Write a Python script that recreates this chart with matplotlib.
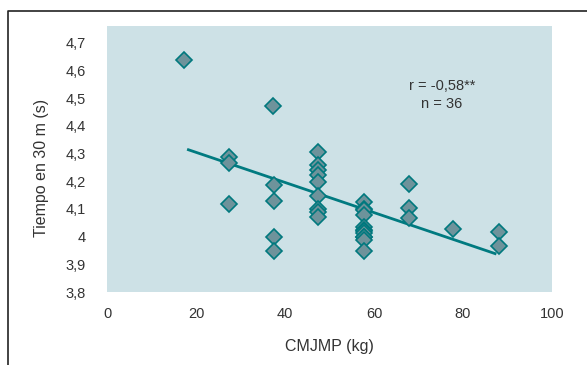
import matplotlib
matplotlib.use("Agg")
import matplotlib.pyplot as plt
from matplotlib.lines import Line2D

# ---- data ----
cmjmp_kg = [17.3,
            27.4, 27.4, 27.4,
            37.4, 37.5, 37.5, 37.5, 37.5,
            47.5, 47.5, 47.5, 47.5, 47.5, 47.5, 47.5, 47.5, 47.5,
            57.7, 57.7, 57.7, 57.7, 57.7, 57.7, 57.7, 57.7, 57.7, 57.7, 57.7, 57.7,
            67.8, 67.8, 67.8,
            77.7,
            88.1, 88.1]
tiempo_s = [4.637,
            4.288, 4.264, 4.117,
            4.470, 4.187, 4.127, 3.997, 3.948,
            4.304, 4.258, 4.240, 4.222, 4.198, 4.148, 4.100, 4.090, 4.072,
            4.126, 4.100, 4.096, 4.078, 4.036, 4.024, 4.020, 4.012, 4.000, 3.997, 3.988, 3.949,
            4.189, 4.102, 4.066,
            4.027,
            4.018, 3.966]
trend_x = [18.0, 87.5]
trend_y = [4.315, 3.937]

y_ticks = [3.8, 3.9, 4.0, 4.1, 4.2, 4.3, 4.4, 4.5, 4.6, 4.7]
y_tick_labels = ["3,8", "3,9", "4", "4,1", "4,2", "4,3", "4,4", "4,5", "4,6", "4,7"]
x_ticks = [0, 20, 40, 60, 80, 100]
x_tick_labels = ["0", "20", "40", "60", "80", "100"]
annotation = "r = -0,58**\nn = 36"
x_title = "CMJMP (kg)"
y_title = "Tiempo en 30 m (s)"

plt.rcParams['font.family'] = ['Liberation Sans', 'DejaVu Sans']
text_color = "#333333"

W, H = 587, 365
fig = plt.figure(figsize=(W / 100, H / 100), dpi=100)
fig.patch.set_facecolor("white")

left, right, top, bottom = 107, 552, 26, 292
ax = fig.add_axes([left / W, 1 - bottom / H, (right - left) / W, (bottom - top) / H])
ax.set_facecolor("#cde1e6")
for s in ax.spines.values():
    s.set_visible(False)

ax.plot(trend_x, trend_y, color="#007a80", lw=2.0, zorder=2, solid_capstyle="butt")
ax.plot(cmjmp_kg, tiempo_s, linestyle="none", marker="D", markersize=7.8,
        markerfacecolor="#6e939b", markeredgecolor="#00787e", markeredgewidth=1.2, zorder=3)

ax.set_xlim(0, 100)
ax.set_ylim(3.8, 4.76)
ax.set_xticks(x_ticks)
ax.set_xticklabels(x_tick_labels)
ax.set_yticks(y_ticks)
ax.set_yticklabels(y_tick_labels)
ax.tick_params(axis="both", length=0, labelsize=10.5, colors=text_color)
ax.tick_params(axis="y", pad=15)
ax.tick_params(axis="x", pad=11)

ax.text(75.3, 4.51, annotation, ha="center", va="center", fontsize=10.5,
        color=text_color, linespacing=1.35)

fig.text((left + right) / 2 / W, 1 - 347 / H, x_title, ha="center", va="center",
         fontsize=11.5, color=text_color)
fig.text(42 / W, 1 - 168 / H, y_title, ha="center", va="center", rotation=90,
         fontsize=11.5, color=text_color)

# outer frame (left and top only)
fx = 7.5 / W
fy = 1 - 10.5 / H
fig.add_artist(Line2D([fx, fx, 1.0], [0.0, fy, fy], transform=fig.transFigure,
                      color="#222222", lw=1.2))

fig.savefig("out.png", dpi=100)
